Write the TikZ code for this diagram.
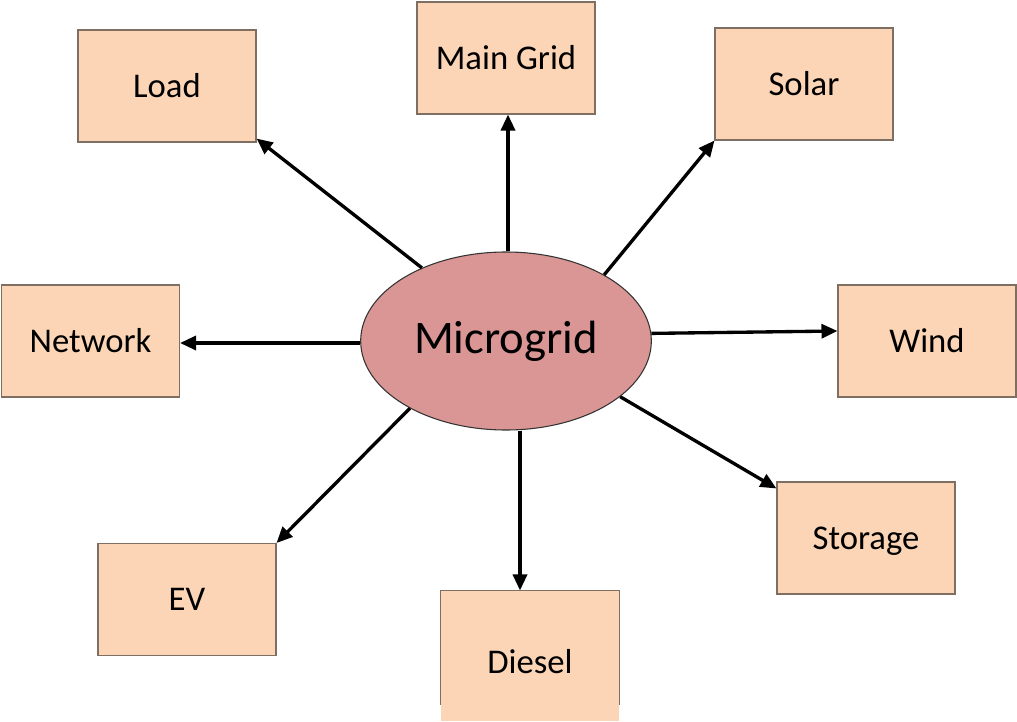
\documentclass[tikz,border=0pt]{standalone}
\usepackage{fontspec}
\setmainfont{Carlito}
\usetikzlibrary{shapes.geometric,arrows.meta,calc}
\definecolor{boxfill}{HTML}{FBD5B5}
\definecolor{boxline}{HTML}{7F6F62}
\definecolor{ellfill}{HTML}{D99694}
\tikzset{
  box/.style={rectangle, fill=boxfill, draw=boxline, line width=0.8pt, minimum width=133.5pt, minimum height=84pt, inner sep=0pt, font=\fontsize{26}{30}\selectfont},
  hub/.style={ellipse, fill=ellfill, draw=black!80, line width=0.8pt, minimum width=218pt, minimum height=133.5pt, inner sep=0pt, font=\fontsize{35}{40}\selectfont},
  arr/.style={line width=2.5pt, -{Triangle[length=12pt,width=10.5pt]}}
}
\begin{document}
\begin{tikzpicture}[x=0.75pt,y=-0.75pt]
\clip (0,0) rectangle (1017,721);
\useasboundingbox (0,0) rectangle (1017,721);
\node[hub] (mg) at (506,341) {Microgrid};
\node[box] (load) at (167,86) {Load};
\node[box] (maingrid) at (506,58) {Main Grid};
\node[box] (solar) at (804,84) {Solar};
\node[box] (network) at (90.5,341) {Network};
\node[box] (wind) at (927,341) {Wind};
\node[box] (ev) at (187,599.5) {EV};
\node[box, text height=17pt, text depth=0pt] (storage) at (866,538) {Storage};
\node[box, draw=none, minimum height=97.5pt, text height=26pt, text depth=0pt] (diesel) at (530,656) {Diesel};
\draw[boxline, line width=0.8pt] ($(diesel.south west)+(0,-17)$) -- (diesel.north west) -- (diesel.north east) -- ($(diesel.south east)+(0,-17)$);
\draw[arr] (mg.139.7) -- ($(load.south east)+(0,-4)$);
\draw[arr] ($(mg.north)+(2,0)$) -- ($(maingrid.south)+(2,0)$);
\draw[arr] (mg.34.4) -- (solar.south west);
\draw[arr] ($(mg.west)+(0,2)$) -- ($(network.east)+(0,2)$);
\draw[arr] (mg.3.9) -- ($(wind.west)+(0,-10)$);
\draw[arr] (mg.215.7) -- (ev.north east);
\draw[arr] ($(mg.south)+(14,0)$) -- ($(diesel.north)+(-10,0)$);
\draw[arr] (mg.334.6) -- ($(storage.north west)+(0,7)$);
\end{tikzpicture}
\end{document}
